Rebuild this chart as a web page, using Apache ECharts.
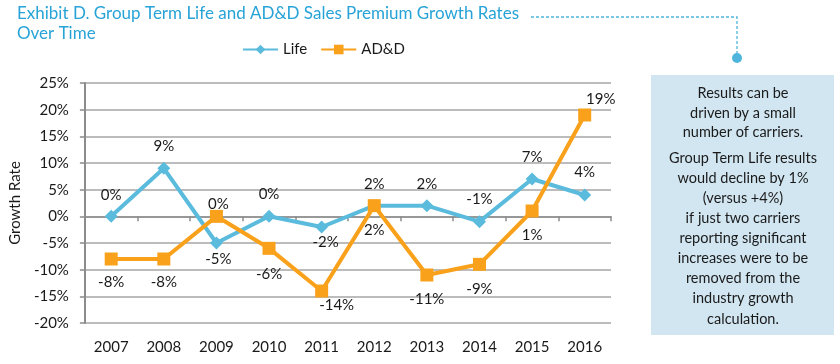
<!DOCTYPE html>
<html>
<head>
<meta charset="utf-8">
<script src="https://cdn.jsdelivr.net/npm/echarts@6/dist/echarts.min.js"></script>
<style>
html,body{margin:0;padding:0;background:#fff;}
#chart{width:840px;height:364px;}
</style>
</head>
<body>
<div id="chart"></div>
<script>
// ---- data ----
const years = ['2007','2008','2009','2010','2011','2012','2013','2014','2015','2016'];
const lifeValues = [0, 9, -5, 0, -2, 2, 2, -1, 7, 4];
const addValues = [-8, -8, 0, -6, -14, 2, -11, -9, 1, 19];
const seriesNames = ['Life', 'AD&D'];
const yMin = -20, yMax = 25, yStep = 5;
const titleText = 'Exhibit D. Group Term Life and AD&D Sales Premium Growth Rates\nOver Time';
const note1 = 'Results can be\ndriven by a small\nnumber of carriers.';
const note2 = 'Group Term Life results\nwould decline by 1%\n(versus +4%)\nif just two carriers\nreporting significant\nincreases were to be\nremoved from the\nindustry growth\ncalculation.';

// ---- label placement (style) ----
const lifeLabelOffsets = [[0,-21],[0,-22],[2,16],[0,-22],[4,15],[0,-22],[0,-22],[0,-23],[0,-22],[0,-23]];
const addLabelOffsets = [[0,23],[0,23],[2,-12],[0,26],[15,14],[0,24],[0,24],[0,25],[0,24],[16,-16]];

const FONT = 'Lato';
const lifeColor = '#5BBBDD';
const addColor = '#F9A11B';

function buildData(values, offsets) {
  return values.map((v, i) => ({
    value: v,
    label: { offset: offsets[i] }
  }));
}

const chart = echarts.init(document.getElementById('chart'), null, {renderer: 'canvas'});
chart.setOption({
  animation: false,
  textStyle: { fontFamily: FONT },
  title: {
    text: titleText,
    left: 17, top: 4, padding: 0,
    textStyle: { fontFamily: FONT, fontSize: 17, fontWeight: 'normal', color: '#27A3D7', lineHeight: 20 }
  },
  legend: {
    data: seriesNames,
    left: 242, top: 42, padding: 0,
    itemWidth: 35, itemHeight: 12, itemGap: 13,
    textStyle: { fontFamily: FONT, fontSize: 15, color: '#1a1a1a' }
  },
  grid: { left: 79, right: 229, top: 83, bottom: 41, containLabel: false },
  xAxis: [
    {
      type: 'category', data: years, position: 'bottom',
      axisLine: { show: false, onZero: false },
      axisTick: { show: false },
      axisLabel: { fontFamily: FONT, fontSize: 15, color: '#1a1a1a', margin: 17 },
      splitLine: { show: false }
    },
    {
      type: 'category', data: years, position: 'top',
      axisLine: { show: true, onZero: true, lineStyle: { color: '#8c8c8c', width: 1.5 } },
      axisTick: { show: true, inside: true, length: 5, lineStyle: { color: '#8c8c8c', width: 1.5 } },
      axisLabel: { show: false },
      splitLine: { show: false }
    }
  ],
  yAxis: {
    type: 'value', min: yMin, max: yMax, interval: yStep,
    name: 'Growth Rate', nameLocation: 'middle', nameGap: 46,
    nameTextStyle: { fontFamily: FONT, fontSize: 15, color: '#1a1a1a' },
    axisLine: { show: true, lineStyle: { color: '#8c8c8c', width: 2 } },
    axisTick: { show: true, length: 5, lineStyle: { color: '#8c8c8c', width: 1.5 } },
    axisLabel: { fontFamily: FONT, fontSize: 15, color: '#1a1a1a', margin: 16, formatter: '{value}%' },
    splitLine: { show: true, lineStyle: { color: '#a6a6a6', width: 1.5 } }
  },
  series: [
    {
      name: seriesNames[0], type: 'line', xAxisIndex: 0,
      data: buildData(lifeValues, lifeLabelOffsets),
      symbol: 'diamond', symbolSize: 13,
      lineStyle: { color: lifeColor, width: 4 },
      itemStyle: { color: lifeColor },
      label: { show: true, position: 'inside', formatter: '{c}%', fontFamily: FONT, fontSize: 15, color: '#1a1a1a' },
      z: 3
    },
    {
      name: seriesNames[1], type: 'line', xAxisIndex: 0,
      data: buildData(addValues, addLabelOffsets),
      symbol: 'rect', symbolSize: 13,
      lineStyle: { color: addColor, width: 4 },
      itemStyle: { color: addColor },
      label: { show: true, position: 'inside', formatter: '{c}%', fontFamily: FONT, fontSize: 15, color: '#1a1a1a' },
      z: 4
    }
  ],
  graphic: [
    {
      type: 'polyline', silent: true,
      shape: { points: [[531, 17], [737, 17], [737, 55]] },
      style: { stroke: '#4FB5DC', lineWidth: 1.3, lineDash: [3, 2], fill: null }
    },
    { type: 'circle', shape: { cx: 737, cy: 58, r: 5 }, style: { fill: '#4FB5DC' } },
    { type: 'rect', shape: { x: 651, y: 75, width: 183, height: 260 }, style: { fill: '#D2E6F1' } },
    {
      type: 'text', x: 743, y: 84,
      style: { text: note1, fontFamily: FONT, fontSize: 14.5, lineHeight: 19.5, fill: '#1a1a1a', align: 'center', verticalAlign: 'top' }
    },
    {
      type: 'text', x: 743, y: 148,
      style: { text: note2, fontFamily: FONT, fontSize: 14.5, lineHeight: 20.1, fill: '#1a1a1a', align: 'center', verticalAlign: 'top' }
    }
  ]
});
</script>
</body>
</html>
